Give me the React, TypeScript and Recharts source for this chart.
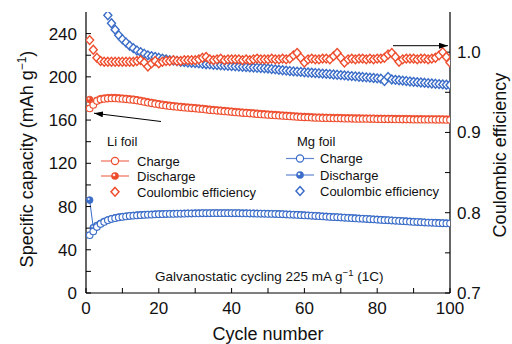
import React from 'react';
import { ComposedChart, Line, XAxis, YAxis } from 'recharts';

const RED = '#ee4d2d';
const BLUE = '#3a6cc8';
const FONT = '"Liberation Sans", Arial, Helvetica, sans-serif';

const cycles = [
  1, 2, 3, 4, 5, 6, 7, 8, 9, 10, 11, 12, 13, 14, 15, 16, 17, 18, 19, 20,
  21, 22, 23, 24, 25, 26, 27, 28, 29, 30, 31, 32, 33, 34, 35, 36, 37, 38, 39, 40,
  41, 42, 43, 44, 45, 46, 47, 48, 49, 50, 51, 52, 53, 54, 55, 56, 57, 58, 59, 60,
  61, 62, 63, 64, 65, 66, 67, 68, 69, 70, 71, 72, 73, 74, 75, 76, 77, 78, 79, 80,
  81, 82, 83, 84, 85, 86, 87, 88, 89, 90, 91, 92, 93, 94, 95, 96, 97, 98, 99, 100,
];

const liCharge = [
  170.8, 174.0, 177.6, 179.0, 179.6, 179.9, 180.0, 180.0, 179.8, 179.5,
  179.2, 178.9, 178.5, 178.0, 177.4, 176.8, 176.1, 175.5, 174.9, 174.3,
  173.8, 173.3, 172.9, 172.5, 172.1, 171.8, 171.5, 171.2, 170.9, 170.6,
  170.3, 170.0, 169.6, 169.2, 168.9, 168.6, 168.3, 168.0, 167.7, 167.4,
  167.1, 166.8, 166.5, 166.3, 166.0, 165.8, 165.5, 165.2, 165.0, 164.7,
  164.5, 164.3, 164.0, 163.8, 163.6, 163.4, 163.1, 162.9, 162.7, 162.5,
  162.4, 162.2, 162.0, 161.9, 161.8, 161.7, 161.6, 161.5, 161.5, 161.4,
  161.3, 161.3, 161.2, 161.1, 161.1, 161.0, 161.0, 160.9, 160.9, 160.8,
  160.8, 160.7, 160.7, 160.7, 160.6, 160.6, 160.5, 160.5, 160.5, 160.4,
  160.4, 160.4, 160.3, 160.3, 160.3, 160.2, 160.2, 160.2, 160.1, 160.1,
];

const liDischarge = [
  179.0, 175.5, 178.3, 179.8, 180.4, 180.7, 180.8, 180.8, 180.6, 180.3,
  180.0, 179.7, 179.3, 178.8, 178.2, 177.6, 176.9, 176.3, 175.7, 175.1,
  174.6, 174.1, 173.7, 173.3, 172.9, 172.6, 172.3, 172.0, 171.7, 171.4,
  171.1, 170.8, 170.4, 170.0, 169.7, 169.4, 169.1, 168.8, 168.5, 168.2,
  167.9, 167.6, 167.3, 167.1, 166.8, 166.6, 166.3, 166.0, 165.8, 165.5,
  165.3, 165.1, 164.8, 164.6, 164.4, 164.2, 163.9, 163.7, 163.5, 163.3,
  163.2, 163.0, 162.8, 162.7, 162.6, 162.5, 162.4, 162.3, 162.3, 162.2,
  162.1, 162.1, 162.0, 161.9, 161.9, 161.8, 161.8, 161.7, 161.7, 161.6,
  161.6, 161.5, 161.5, 161.5, 161.4, 161.4, 161.3, 161.3, 161.3, 161.2,
  161.2, 161.2, 161.1, 161.1, 161.1, 161.0, 161.0, 161.0, 160.9, 160.9,
];

const liCE = [
  1.015, 1.003, 0.993, 0.989, 0.988, 0.988, 0.988, 0.988, 0.988, 0.988,
  0.988, 0.988, 0.988, 0.989, 0.990, 0.987, 0.982, 0.986, 0.989, 0.986,
  0.988, 0.989, 0.989, 0.990, 0.989, 0.989, 0.990, 0.990, 0.990, 0.990,
  0.991, 0.993, 0.994, 0.991, 0.990, 0.991, 0.992, 0.990, 0.991, 0.991,
  0.991, 0.991, 0.990, 0.991, 0.990, 0.991, 0.992, 0.991, 0.991, 0.991,
  0.992, 0.991, 0.991, 0.992, 0.991, 0.992, 0.996, 0.999, 0.993, 0.987,
  0.991, 0.992, 0.991, 0.991, 0.992, 0.992, 0.991, 0.995, 0.999, 0.993,
  0.987, 0.991, 0.992, 0.991, 0.992, 0.992, 0.991, 0.992, 0.991, 0.992,
  0.992, 0.993, 0.997, 0.999, 0.994, 0.988, 0.991, 0.992, 0.992, 0.992,
  0.991, 0.992, 0.992, 0.991, 0.992, 0.993, 0.996, 1.000, 0.994, 0.987,
];

const mgCharge = [
  53.5, 57.0, 61.0, 63.8, 65.8, 67.3, 68.4, 69.2, 69.9, 70.4,
  70.8, 71.2, 71.5, 71.8, 72.0, 72.2, 72.4, 72.5, 72.7, 72.8,
  72.9, 73.0, 73.1, 73.2, 73.3, 73.3, 73.4, 73.5, 73.5, 73.6,
  73.6, 73.7, 73.7, 73.7, 73.8, 73.8, 73.8, 73.8, 73.8, 73.7,
  73.7, 73.7, 73.6, 73.6, 73.5, 73.5, 73.4, 73.3, 73.3, 73.2,
  73.1, 73.0, 72.9, 72.8, 72.6, 72.5, 72.3, 72.2, 72.0, 71.8,
  71.6, 71.4, 71.2, 71.0, 70.8, 70.6, 70.4, 70.2, 70.0, 69.8,
  69.6, 69.4, 69.2, 69.0, 68.8, 68.6, 68.4, 68.2, 68.0, 67.8,
  67.6, 67.4, 67.2, 67.0, 66.8, 66.6, 66.4, 66.2, 66.0, 65.8,
  65.6, 65.4, 65.2, 65.0, 64.9, 64.8, 64.6, 64.5, 64.4, 64.3,
];

const mgDischarge = [
  86.0, 60.5, 62.5, 64.5, 66.3, 67.6, 68.7, 69.5, 70.2, 70.7,
  71.1, 71.5, 71.8, 72.1, 72.3, 72.5, 72.7, 72.8, 73.0, 73.1,
  73.2, 73.3, 73.4, 73.5, 73.6, 73.6, 73.7, 73.8, 73.8, 73.9,
  73.9, 74.0, 74.0, 74.0, 74.1, 74.1, 74.1, 74.1, 74.1, 74.0,
  74.0, 74.0, 73.9, 73.9, 73.8, 73.8, 73.7, 73.6, 73.6, 73.5,
  73.4, 73.3, 73.2, 73.1, 72.9, 72.8, 72.6, 72.5, 72.3, 72.1,
  71.9, 71.7, 71.5, 71.3, 71.1, 70.9, 70.7, 70.5, 70.3, 70.1,
  69.9, 69.7, 69.5, 69.3, 69.1, 68.9, 68.7, 68.5, 68.3, 68.1,
  67.9, 67.7, 67.5, 67.3, 67.1, 66.9, 66.7, 66.5, 66.3, 66.1,
  65.9, 65.7, 65.5, 65.3, 65.2, 65.1, 64.9, 64.8, 64.7, 64.6,
];

const mgCE = [
  null, null, null, null, 1.058, 1.046, 1.036, 1.028, 1.021, 1.016,
  1.012, 1.008, 1.005, 1.002, 1.000, 0.998, 0.996, 0.995, 0.994, 0.993,
  0.992, 0.991, 0.990, 0.9895, 0.989, 0.988, 0.9875, 0.987, 0.9868, 0.9865,
  0.986, 0.9855, 0.985, 0.9847, 0.9843, 0.984, 0.9837, 0.9833, 0.983, 0.9826,
  0.9823, 0.982, 0.9817, 0.9814, 0.981, 0.9808, 0.9805, 0.9802, 0.98, 0.9797,
  0.979, 0.9785, 0.978, 0.9775, 0.977, 0.9765, 0.976, 0.9757, 0.9754, 0.975,
  0.9747, 0.9744, 0.974, 0.9737, 0.9733, 0.973, 0.9726, 0.9722, 0.9718, 0.9714,
  0.971, 0.9706, 0.9702, 0.9698, 0.9694, 0.969, 0.9686, 0.9682, 0.9678, 0.9674,
  0.967, 0.964, 0.969, 0.966, 0.9655, 0.965, 0.9645, 0.964, 0.9635, 0.963,
  0.9626, 0.9622, 0.9618, 0.9614, 0.961, 0.9606, 0.9602, 0.9598, 0.9594, 0.959,
];

const xTicks = [0, 10, 20, 30, 40, 50, 60, 70, 80, 90, 100];
const capTicks = [0, 20, 40, 60, 80, 100, 120, 140, 160, 180, 200, 220, 240];
const ceTicks = [0.7, 0.75, 0.8, 0.85, 0.9, 0.95, 1.0];

const data = cycles.map((c, i) => ({
  cycle: c,
  liCharge: liCharge[i],
  liDischarge: liDischarge[i],
  liCE: liCE[i],
  mgCharge: mgCharge[i],
  mgDischarge: mgDischarge[i],
  mgCE: mgCE[i],
}));

const bad = (cx: any, cy: any) => cx == null || cy == null || isNaN(cx) || isNaN(cy);

const openCircle = (color: string, id: string) => (p: any) => {
  const { cx, cy, index } = p;
  if (bad(cx, cy)) return <g key={`${id}${index}`} />;
  return <circle key={`${id}${index}`} cx={cx} cy={cy} r={3.3} fill="#fff" stroke={color} strokeWidth={1.1} />;
};

const filledCircle = (color: string, id: string) => (p: any) => {
  const { cx, cy, index } = p;
  if (bad(cx, cy)) return <g key={`${id}${index}`} />;
  return (
    <g key={`${id}${index}`}>
      <circle cx={cx} cy={cy} r={3.4} fill={color} stroke={color} strokeWidth={0.8} />
      <circle cx={cx - 1} cy={cy - 1} r={1.1} fill="#fff" opacity={0.85} />
    </g>
  );
};

const diamond = (color: string, id: string) => (p: any) => {
  const { cx, cy, index } = p;
  if (bad(cx, cy)) return <g key={`${id}${index}`} />;
  const pts = `${cx},${cy - 4.4} ${cx + 4},${cy} ${cx},${cy + 4.4} ${cx - 4},${cy}`;
  return <polygon key={`${id}${index}`} points={pts} fill="#fff" stroke={color} strokeWidth={1.4} />;
};

const tickStyle = { fontSize: 17, fill: '#111', fontFamily: FONT };
const axisLine = { stroke: '#000', strokeWidth: 1.2 };
const tickLine = { stroke: '#000', strokeWidth: 1 };

const LegendLine = ({ x, y, color }: { x: number; y: number; color: string }) => (
  <line x1={x - 14} x2={x + 14} y1={y} y2={y} stroke={color} strokeWidth={1.2} opacity={0.8} />
);

export default function App() {
  return (
    <div style={{ position: 'absolute', left: 0, top: 0, width: 512, height: 344, background: '#fff', fontFamily: FONT }}>
      <ComposedChart width={512} height={344} data={data} margin={{ top: 12, right: 0, bottom: 0, left: 0 }}>
        <XAxis
          dataKey="cycle"
          type="number"
          domain={[0, 100]}
          allowDataOverflow
          ticks={xTicks}
          interval={0}
          tickFormatter={(v: number) => (v % 20 === 0 ? String(v) : '')}
          tickSize={-5}
          tickMargin={14}
          height={51}
          tick={tickStyle}
          axisLine={axisLine}
          tickLine={tickLine}
        />
        <XAxis
          xAxisId="top"
          orientation="top"
          type="number"
          domain={[0, 100]}
          allowDataOverflow
          ticks={xTicks}
          interval={0}
          tickFormatter={() => ''}
          tickSize={-5}
          height={0}
          axisLine={axisLine}
          tickLine={tickLine}
        />
        <YAxis
          yAxisId="cap"
          orientation="left"
          type="number"
          domain={[0, 260]}
          allowDataOverflow
          ticks={capTicks}
          interval={0}
          tickFormatter={(v: number) => (v % 40 === 0 ? String(v) : '')}
          tickSize={-5}
          tickMargin={14}
          width={86}
          tick={tickStyle}
          axisLine={axisLine}
          tickLine={tickLine}
        />
        <YAxis
          yAxisId="ce"
          orientation="right"
          type="number"
          domain={[0.7, 1.05]}
          allowDataOverflow
          ticks={ceTicks}
          interval={0}
          tickFormatter={(v: number) => (Math.abs(v * 10 - Math.round(v * 10)) < 1e-6 ? v.toFixed(1) : '')}
          tickSize={-5}
          tickMargin={12}
          width={62}
          tick={tickStyle}
          axisLine={axisLine}
          tickLine={tickLine}
        />

        <Line yAxisId="ce" dataKey="mgCE" stroke="none" isAnimationActive={false} dot={diamond(BLUE, 'mce')} activeDot={false} />
        <Line yAxisId="ce" dataKey="liCE" stroke="none" isAnimationActive={false} dot={diamond(RED, 'lce')} activeDot={false} />

        <Line yAxisId="cap" dataKey="liDischarge" stroke={RED} strokeWidth={1} isAnimationActive={false} dot={filledCircle(RED, 'ld')} activeDot={false} />
        <Line yAxisId="cap" dataKey="liCharge" stroke={RED} strokeWidth={1} isAnimationActive={false} dot={openCircle(RED, 'lc')} activeDot={false} />
        <Line yAxisId="cap" dataKey="mgDischarge" stroke={BLUE} strokeWidth={1} isAnimationActive={false} dot={filledCircle(BLUE, 'md')} activeDot={false} />
        <Line yAxisId="cap" dataKey="mgCharge" stroke={BLUE} strokeWidth={1} isAnimationActive={false} dot={openCircle(BLUE, 'mc')} activeDot={false} />
      </ComposedChart>

      <svg width={512} height={344} style={{ position: 'absolute', left: 0, top: 0, pointerEvents: 'none' }} fontFamily={FONT}>
        <defs>
          <marker id="ah" markerWidth={9} markerHeight={6} refX={9} refY={3} orient="auto" markerUnits="userSpaceOnUse">
            <path d="M0,0 L9,3 L0,6 z" fill="#000" />
          </marker>
        </defs>

        {/* axis titles */}
        <text transform="translate(33,159) rotate(-90)" textAnchor="middle" fontSize={18} fill="#111">
          Specific capacity (mAh g<tspan dy={-7} fontSize={12}>−1</tspan>
          <tspan dy={7}>)</tspan>
        </text>
        <text transform="translate(506,155) rotate(-90)" textAnchor="middle" fontSize={18} fill="#111">
          Coulombic efficiency
        </text>
        <text x={268} y={340} textAnchor="middle" fontSize={18} fill="#111">
          Cycle number
        </text>

        {/* arrows */}
        <line x1={161} y1={121.5} x2={94} y2={113.2} stroke="#000" strokeWidth={1} markerEnd="url(#ah)" />
        <line x1={393} y1={45.7} x2={448} y2={45.7} stroke="#000" strokeWidth={1} markerEnd="url(#ah)" />

        {/* Li legend */}
        <text x={107} y={146} fontSize={13} fill="#111">Li foil</text>
        <LegendLine x={115} y={161} color={RED} />
        <circle cx={115} cy={161} r={3.6} fill="#fff" stroke={RED} strokeWidth={1.2} />
        <text x={137} y={165.5} fontSize={13} fill="#111">Charge</text>
        <LegendLine x={115} y={176} color={RED} />
        <circle cx={115} cy={176} r={3.8} fill={RED} />
        <circle cx={114} cy={175} r={1.3} fill="#fff" opacity={0.85} />
        <text x={137} y={180.5} fontSize={13} fill="#111">Discharge</text>
        <polygon points="115,187.4 119,191.8 115,196.2 111,191.8" fill="#fff" stroke={RED} strokeWidth={1.5} />
        <text x={137} y={196.5} fontSize={13} fill="#111">Coulombic efficiency</text>

        {/* Mg legend */}
        <text x={297} y={146} fontSize={13} fill="#111">Mg foil</text>
        <LegendLine x={300} y={158.5} color={BLUE} />
        <circle cx={300} cy={158.5} r={3.6} fill="#fff" stroke={BLUE} strokeWidth={1.2} />
        <text x={320} y={163} fontSize={13} fill="#111">Charge</text>
        <LegendLine x={300} y={175} color={BLUE} />
        <circle cx={300} cy={175} r={3.8} fill={BLUE} />
        <circle cx={299} cy={174} r={1.3} fill="#fff" opacity={0.85} />
        <text x={320} y={179.5} fontSize={13} fill="#111">Discharge</text>
        <polygon points="300,186.6 304,191 300,195.4 296,191" fill="#fff" stroke={BLUE} strokeWidth={1.5} />
        <text x={320} y={195.5} fontSize={13} fill="#111">Coulombic efficiency</text>

        {/* annotation */}
        <text x={155} y={281} fontSize={13.5} fill="#111">
          Galvanostatic cycling 225 mA g<tspan dy={-5} fontSize={9.5}>−1</tspan>
          <tspan dy={5}> (1C)</tspan>
        </text>
      </svg>
    </div>
  );
}
